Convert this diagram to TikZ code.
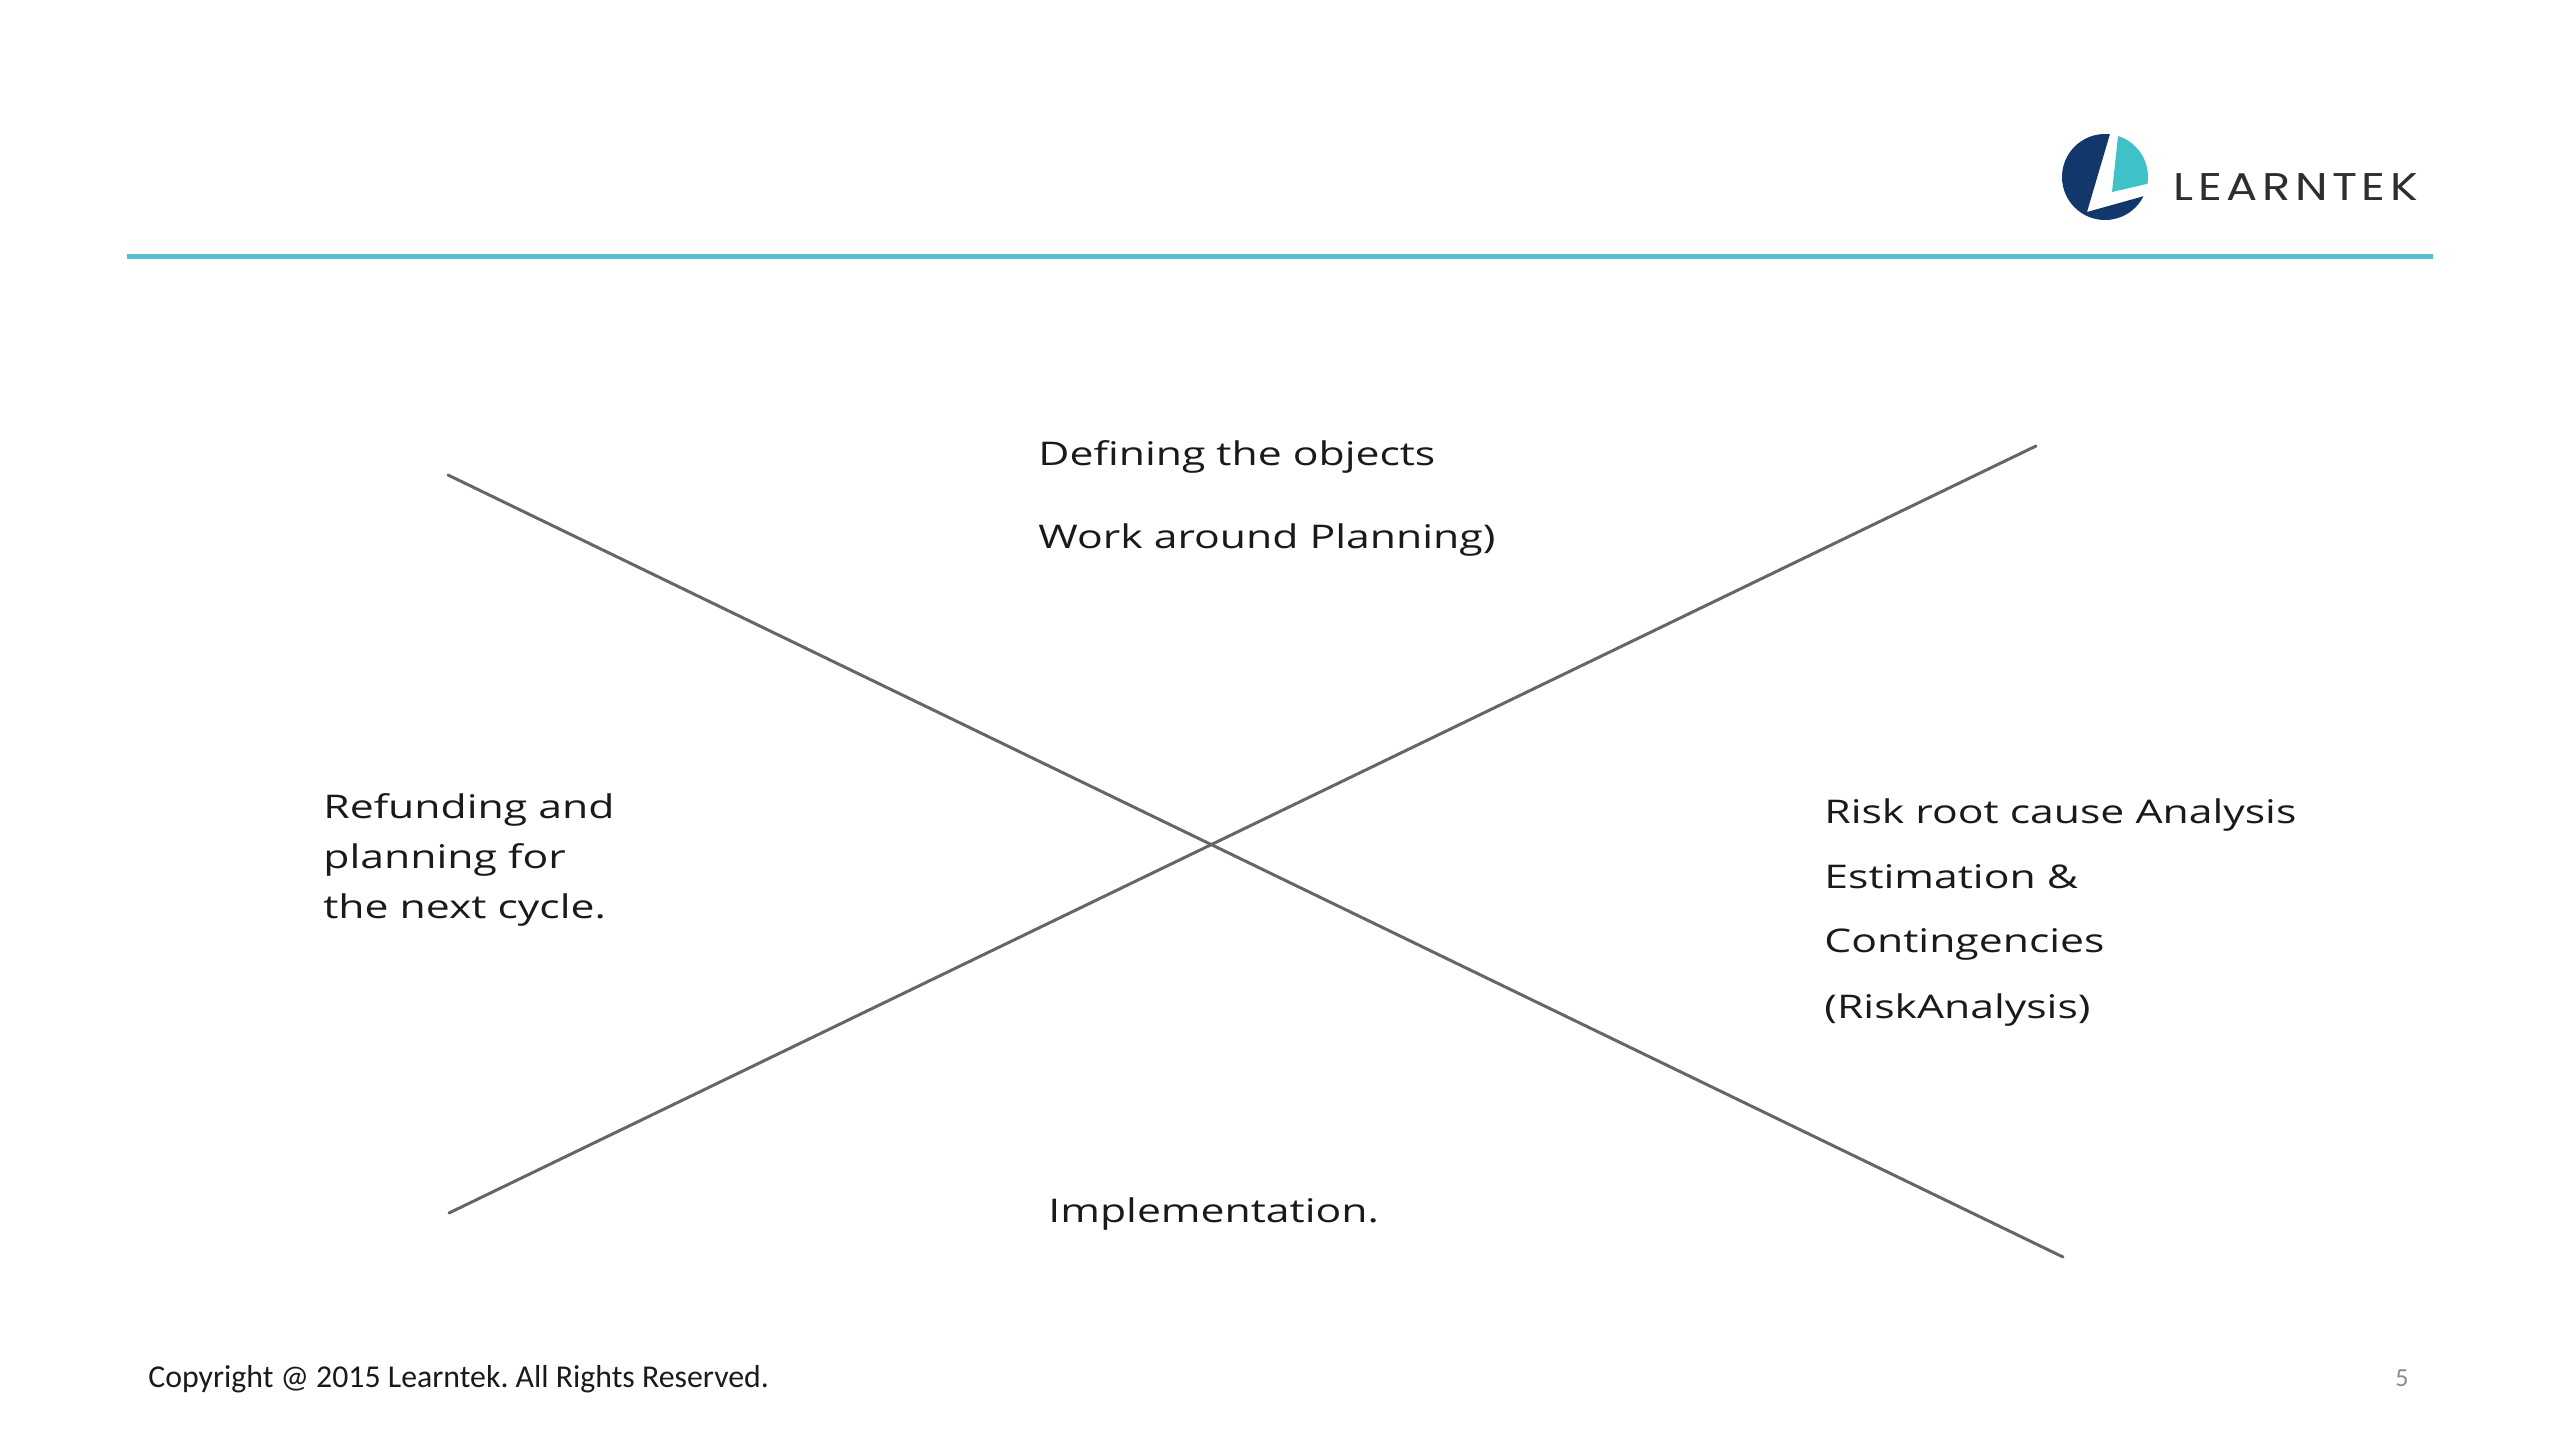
\documentclass[tikz,border=0pt]{standalone}
\usepackage{fontspec}
\setmainfont{Open Sans}
\newfontfamily\phasefont[FakeStretch=1.31]{Open Sans}
\newfontfamily\footfont{Carlito}
\newfontfamily\logofont[FakeStretch=1.2,LetterSpace=12]{Poppins}
\definecolor{ink}{HTML}{1A1A1A}
\definecolor{crossgrey}{HTML}{666666}
\definecolor{rulecyan}{HTML}{55C2CB}
\definecolor{logonavy}{HTML}{12386B}
\definecolor{logoteal}{HTML}{3EC1C7}
\frenchspacing
\tikzset{
  phase/.style = {font=\phasefont\fontsize{16.3}{20}\selectfont, text=ink, anchor=base west, inner sep=0pt},
  foot/.style = {font=\footfont\fontsize{15.9}{19}\selectfont, text=ink, anchor=base west, inner sep=0pt},
  pagenum/.style = {font=\footfont\fontsize{13}{16}\selectfont, text=black!45, anchor=base west, inner sep=0pt},
  logotext/.style = {font=\logofont\fontsize{19.3}{22}\selectfont, text=black!82, anchor=base west, inner sep=0pt},
  crossline/.style = {draw=crossgrey, line width=1.5pt, line cap=round},
  headrule/.style = {draw=rulecyan, line width=2.5pt}
}
\newcommand{\logomark}[2]{%
  \begin{scope}[shift={#1}, scale=#2]
    \clip (0,0) circle[radius=43];
    \fill[logonavy] (-50,-50) -- (7,-50) -- (-18,35) -- (50,16) -- (50,50) -- (-50,50) -- cycle;
    \fill[logoteal] (14,-50) -- (7,15) -- (50,5) -- (50,-50) -- cycle;
  \end{scope}
}

\begin{document}
\begin{tikzpicture}[x=0.5pt, y=-0.5pt]
  \useasboundingbox (0,0) rectangle (2560,1440);
  \fill[white] (0,0) rectangle (2560,1440);
  % header
  \logomark{(2105,177)}{1}
  \node[logotext] (brand) at (2173,200) {LEARNTEK};
  \coordinate (ruleL) at (127,256);
  \coordinate (ruleR) at (2433,256);
  \draw[headrule] (ruleL) -- (ruleR);
  % cross
  \coordinate (nw) at (448,475);
  \coordinate (se) at (2063,1257);
  \coordinate (sw) at (449,1213);
  \coordinate (ne) at (2036,446);
  \draw[crossline] (nw) -- (se);
  \draw[crossline] (sw) -- (ne);
  % phases
  \node[phase] (define) at (1038,465) {Defining the objects};
  \node[phase] (workaround) at (1038,548) {Work around Planning)};
  \node[phase] (refund1) at (323,818) {Refunding and};
  \node[phase] (refund2) at (323,868) {planning for};
  \node[phase] (refund3) at (323,918) {the next cycle.};
  \node[phase] (risk1) at (1824,823) {Risk root cause Analysis};
  \node[phase] (risk2) at (1824,888) {Estimation \&};
  \node[phase] (risk3) at (1824,952) {Contingencies};
  \node[phase] (risk4) at (1824,1018) {(RiskAnalysis)};
  \node[phase] (implement) at (1048,1222) {Implementation.};
  % footer
  \node[foot] (copyright) at (148,1387) {Copyright @ 2015 Learntek. All Rights Reserved.};
  \node[pagenum] (page) at (2395,1386) {5};
\end{tikzpicture}
\end{document}
